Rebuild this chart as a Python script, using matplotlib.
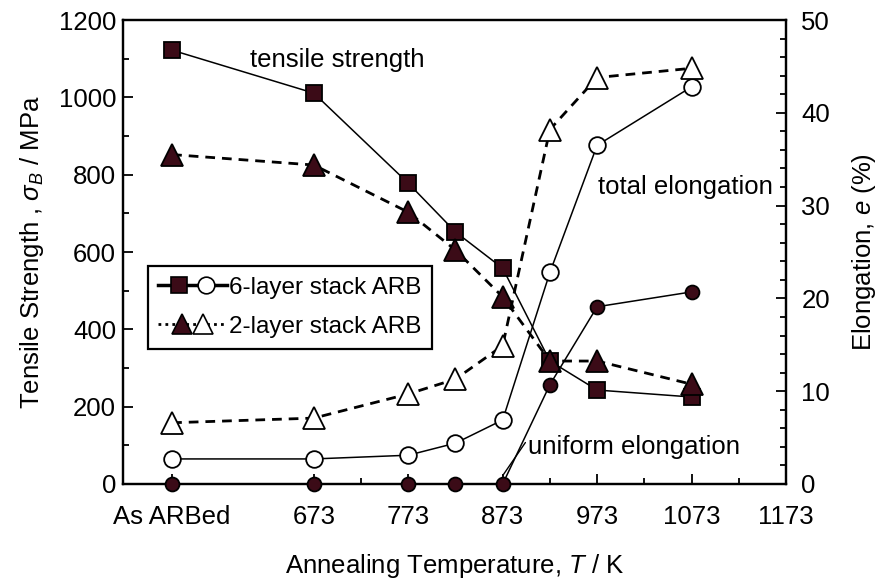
import matplotlib
matplotlib.use('Agg')
import matplotlib.pyplot as plt
from matplotlib.lines import Line2D
from matplotlib.legend_handler import HandlerBase
from matplotlib.ticker import FixedLocator

plt.rcParams['font.family'] = ['Liberation Sans', 'DejaVu Sans']
plt.rcParams['mathtext.fontset'] = 'custom'
plt.rcParams['mathtext.rm'] = 'Liberation Sans'
plt.rcParams['mathtext.it'] = 'Liberation Sans:italic'

# annealing temperature (K); the as-ARBed state is placed at 523
temps = [523, 673, 773, 823, 873, 923, 973, 1073]
tick_pos = [523, 673, 773, 873, 973, 1073, 1173]
tick_labels = ['As ARBed', '673', '773', '873', '973', '1073', '1173']

# tensile strength (MPa)
ts_6layer = [1122, 1011, 778, 652, 558, 318, 243, 225]
ts_2layer = [852, 825, 703, 605, 484, 318, 318, 258]

# elongation (%)
total_el_6layer = [2.7, 2.7, 3.1, 4.4, 6.9, 22.8, 36.5, 42.8]
total_el_2layer = [6.6, 7.1, 9.7, 11.3, 14.9, 38.2, 43.8, 44.8]
uniform_el_6layer = [0, 0, 0, 0, 0, 10.7, 19.1, 20.7]

fill = '#3b0b17'
dash = (0, (3.5, 2.5))
fs = 18.5


class PairHandler(HandlerBase):
    """Line across the handle box with a filled and an open symbol side by side."""

    def __init__(self, marker, ms, off, ls, lw):
        super().__init__()
        self.marker = marker
        self.ms = ms
        self.off = off
        self.ls = ls
        self.lw = lw

    def create_artists(self, legend, orig_handle, xdescent, ydescent,
                       width, height, fontsize, trans):
        y = height / 2 - ydescent
        x0 = -xdescent
        xc = x0 + width / 2
        line = Line2D([x0, x0 + width], [y, y], color='black', lw=self.lw, ls=self.ls)
        m1 = Line2D([xc - self.off], [y], ls='none', marker=self.marker[0], ms=self.ms,
                    mfc=fill, mec='black', mew=1.2)
        m2 = Line2D([xc + self.off], [y], ls='none', marker=self.marker[1], ms=self.ms,
                    mfc='white', mec='black', mew=1.2)
        for a in (line, m1, m2):
            a.set_transform(trans)
        return [line, m1, m2]


fig = plt.figure(figsize=(8.81, 5.82), dpi=100)
ax = fig.add_axes([0.1396, 0.1684, 0.7526, 0.7972])
ax2 = ax.twinx()

ax.plot(temps, ts_6layer, '-', color='black', lw=1.1, marker='s', ms=11,
        mfc=fill, mec='black', mew=1.3, zorder=3)
ax.plot(temps, ts_2layer, color='black', lw=2.0, ls=dash, marker='^', ms=16,
        mfc=fill, mec='black', mew=1.3, zorder=3)

ax2.plot(temps, total_el_6layer, '-', color='black', lw=1.1, marker='o', ms=12,
         mfc='white', mec='black', mew=1.3, zorder=3)
ax2.plot(temps, total_el_2layer, color='black', lw=2.0, ls=dash, marker='^', ms=16,
         mfc='white', mec='black', mew=1.3, zorder=3)
ax2.plot(temps, uniform_el_6layer, '-', color='black', lw=1.1, marker='o', ms=10,
         mfc=fill, mec='black', mew=1.3, zorder=3, clip_on=False)

ax.set_xlim(471, 1173)
ax.set_ylim(0, 1200)
ax2.set_ylim(0, 50)

ax.set_xticks(tick_pos)
ax.set_xticklabels(tick_labels)
ax.xaxis.set_minor_locator(FixedLocator([723, 823, 923, 1023, 1123]))
ax.set_yticks(range(0, 1201, 200))
ax.yaxis.set_minor_locator(FixedLocator(range(100, 1200, 200)))
ax2.set_yticks(range(0, 51, 10))
ax2.yaxis.set_minor_locator(FixedLocator(range(2, 50, 2)))

ax.tick_params(which='both', direction='in', labelsize=fs, width=1.3, top=False, right=False)
ax.tick_params(which='major', length=7)
ax.tick_params(which='minor', length=4)
ax.tick_params(axis='x', which='major', pad=15)
ax.tick_params(axis='y', which='major', pad=5)
ax2.tick_params(which='both', direction='in', labelsize=fs, width=1.3, left=False)
ax2.tick_params(which='major', length=7, pad=11)
ax2.tick_params(which='minor', length=4)

for a in (ax, ax2):
    for s in a.spines.values():
        s.set_linewidth(1.6)

ax.set_xlabel(r'Annealing Temperature, $T$ / K', fontsize=fs, labelpad=17)
ax.set_ylabel(r'Tensile Strength , $\sigma_B$ / MPa', fontsize=fs, labelpad=9)
ax2.set_ylabel(r'Elongation, $e$ (%)', fontsize=fs, labelpad=14)

ax.text(606, 1096, 'tensile strength', fontsize=fs, va='center')
ax2.text(974, 32.0, 'total elongation', fontsize=fs, va='center')
ax2.annotate('uniform elongation', xy=(873, 0.9), xytext=(900, 4.0),
             fontsize=fs, va='center',
             arrowprops=dict(arrowstyle='-', color='black', lw=1.0,
                             shrinkA=0, shrinkB=0, relpos=(0, 0.85)))

# legend proxies, each drawn by its own handler
p6 = Line2D([], [])
p2 = Line2D([], [])
leg = ax.legend([p6, p2], ['6-layer stack ARB', '2-layer stack ARB'],
                handler_map={p6: PairHandler('so', 12, 9.5, '-', 2.5),
                             p2: PairHandler('^^', 14.5, 7.5, (0, (1, 1.5)), 2.0)},
                loc='upper left', bbox_to_anchor=(0.037, 0.47), borderaxespad=0,
                fontsize=17.5, handlelength=2.8, handletextpad=0.1, labelspacing=0.7,
                borderpad=0.45, fancybox=False, edgecolor='black', framealpha=1)
leg.get_frame().set_linewidth(1.6)
leg.set_zorder(5)

fig.savefig('out.png', dpi=100)
